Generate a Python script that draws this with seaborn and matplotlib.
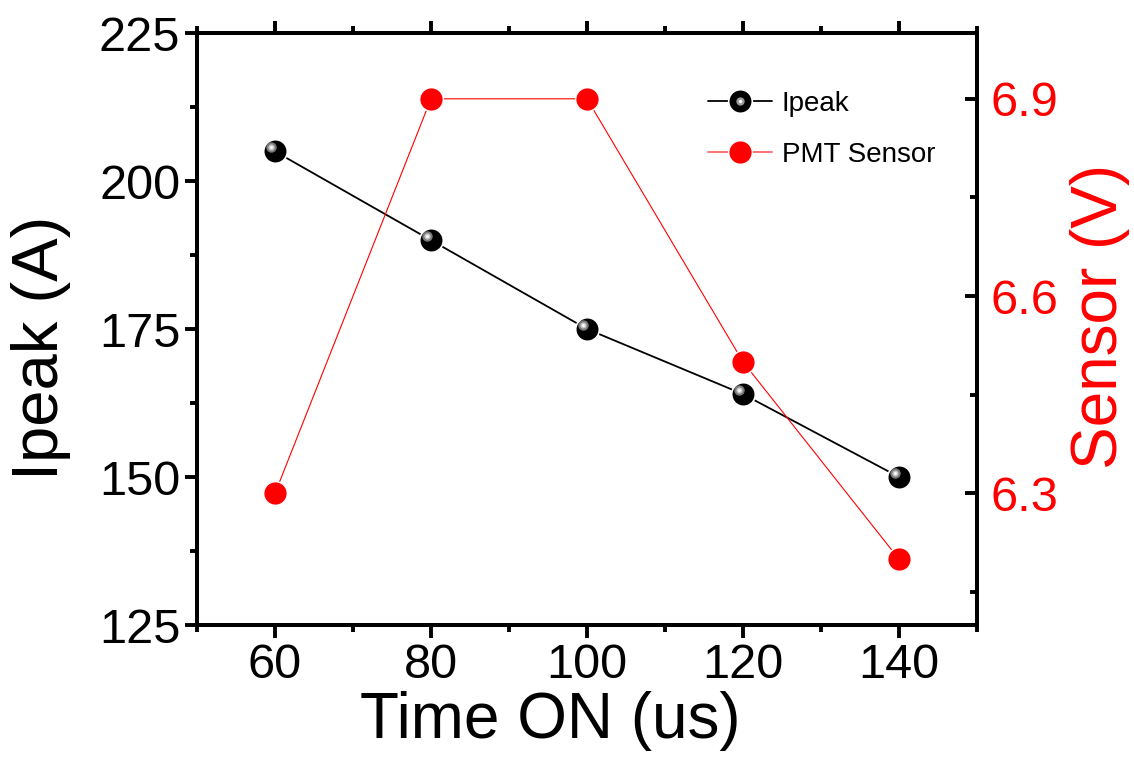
import numpy as np
import pandas as pd
import matplotlib
matplotlib.use("Agg")
import matplotlib.pyplot as plt
import matplotlib.transforms as mtransforms
from matplotlib.lines import Line2D
from matplotlib.legend_handler import HandlerTuple
from matplotlib.ticker import MultipleLocator, FormatStrFormatter
import seaborn as sns

time_on = [60, 80, 100, 120, 140]
ipeak = [205, 190, 175, 164, 150]
sensor = [6.3, 6.9, 6.9, 6.5, 6.2]

sns.set_theme(style="ticks")
plt.rcParams['font.family'] = ['Liberation Sans', 'DejaVu Sans']
plt.rcParams['text.color'] = 'black'
plt.rcParams['axes.labelcolor'] = 'black'

df = pd.DataFrame({"time": time_on, "ipeak": ipeak, "sensor": sensor})

fig = plt.figure(figsize=(11.34, 7.61), dpi=100)
ax1 = fig.add_axes([0.1737, 0.1787, 0.6879, 0.7779])
ax2 = ax1.twinx()

# Ipeak series (sphere-like markers)
sns.lineplot(data=df, x="time", y="ipeak", ax=ax1, color="black", lw=1.3,
             marker="o", markersize=17, markerfacecolor="black",
             markeredgecolor="white", markeredgewidth=1.2, zorder=3)
hl = mtransforms.offset_copy(ax1.transData, fig=fig, x=-3, y=3, units="points")
ax1.plot(time_on, ipeak, ls="none", marker="o", markersize=7.5,
         markerfacecolor="#7a7a7a", markeredgecolor="none", transform=hl, zorder=4)
ax1.plot(time_on, ipeak, ls="none", marker="o", markersize=4.5,
         markerfacecolor="#c8c8c8", markeredgecolor="none", transform=hl, zorder=5)
ax1.plot(time_on, ipeak, ls="none", marker="o", markersize=2,
         markerfacecolor="white", markeredgecolor="none", transform=hl, zorder=6)

# Sensor series
sns.lineplot(data=df, x="time", y="sensor", ax=ax2, color="red", lw=0.8,
             marker="o", markersize=17, markerfacecolor="red",
             markeredgecolor="white", markeredgewidth=1.0, zorder=3)

ax1.set_xlim(50, 150)
ax1.set_ylim(125, 225)
ax2.set_ylim(6.1, 7.0)

ax1.xaxis.set_major_locator(MultipleLocator(20))
ax1.xaxis.set_minor_locator(MultipleLocator(10))
ax1.yaxis.set_major_locator(MultipleLocator(25))
ax1.yaxis.set_minor_locator(MultipleLocator(12.5))
ax2.yaxis.set_major_locator(MultipleLocator(0.3))
ax2.yaxis.set_minor_locator(MultipleLocator(0.15))
ax2.yaxis.set_major_formatter(FormatStrFormatter('%.1f'))

lw = 2.8
for ax in (ax1, ax2):
    for s in ax.spines.values():
        s.set_linewidth(lw)
        s.set_color("black")

ax1.tick_params(axis="both", which="major", direction="out", length=9, width=lw,
                labelsize=35, colors="black", top=True, right=False)
ax1.tick_params(axis="both", which="minor", direction="out", length=5, width=lw,
                colors="black", top=True, right=False)
ax1.tick_params(axis="x", which="major", pad=4)
ax1.tick_params(axis="y", which="major", pad=3)
ax2.tick_params(axis="y", which="major", direction="in", length=9, width=lw,
                labelsize=35, labelcolor="red", color="black", pad=10)
ax2.tick_params(axis="y", which="minor", direction="in", length=5, width=lw,
                color="black")

ax1.set_xlabel("Time ON (us)", fontsize=46, labelpad=2, color="black")
ax1.set_ylabel("Ipeak (A)", fontsize=47, labelpad=20, color="black")
ax2.set_ylabel("Sensor (V)", fontsize=46, color="red", labelpad=8)
ax1.xaxis.label.set_x(0.4526)
ax1.yaxis.label.set_y(0.468)
ax2.yaxis.label.set_y(0.522)

h1 = (Line2D([], [], color="black", lw=1.3, marker="o", markersize=17,
             markerfacecolor="black", markeredgecolor="white", markeredgewidth=1.2),
      Line2D([], [], ls="none", marker="o", markersize=6,
             markerfacecolor="#9a9a9a", markeredgecolor="none"),
      Line2D([], [], ls="none", marker="o", markersize=2.5,
             markerfacecolor="white", markeredgecolor="none"))
h2 = Line2D([], [], color="#ff6666", lw=1.3, marker="o", markersize=17,
            markerfacecolor="red", markeredgecolor="white", markeredgewidth=1.0)
leg = ax2.legend([h1, h2], ["Ipeak", "PMT Sensor"], loc="upper left",
                 bbox_to_anchor=(0.623, 0.945), frameon=False, fontsize=20,
                 handlelength=2.3, handletextpad=0.35, labelspacing=0.9,
                 handler_map={tuple: HandlerTuple(ndivide=1, pad=0)})
for t in leg.get_texts():
    t.set_color("black")

fig.savefig("out.png", dpi=100)
